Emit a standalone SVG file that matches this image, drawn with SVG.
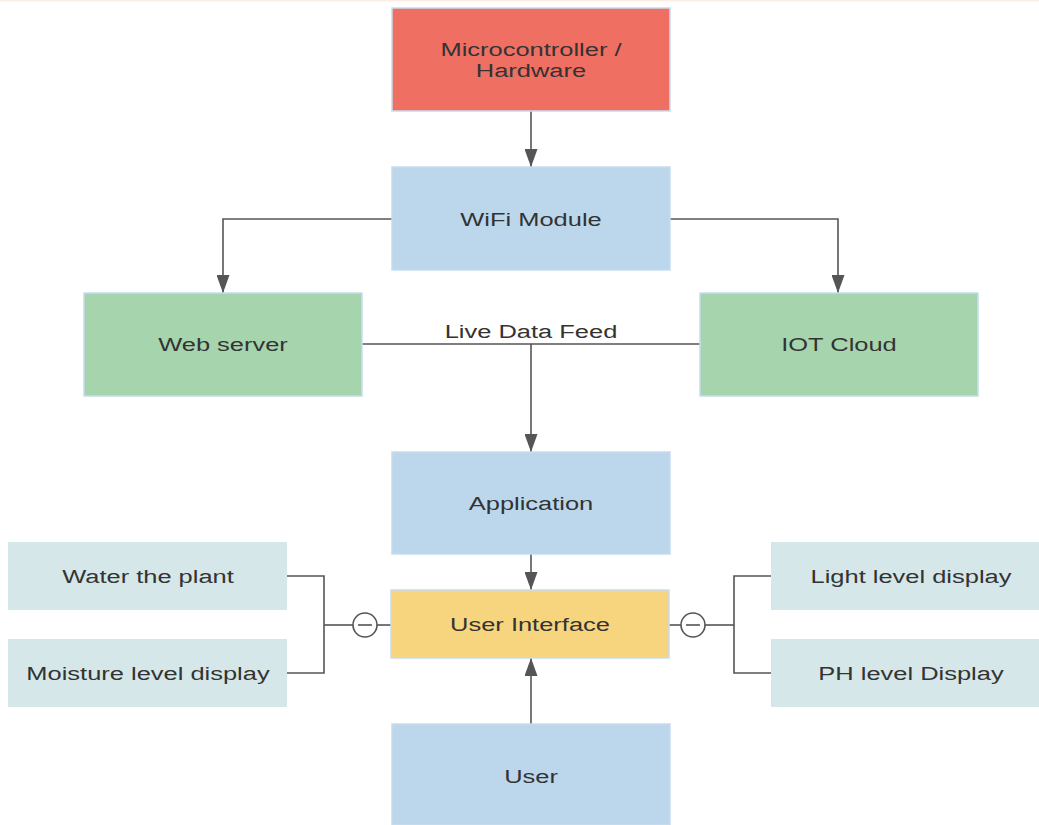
<svg xmlns="http://www.w3.org/2000/svg" width="1039" height="825" viewBox="0 0 1039 825">
  <style>
    .box { stroke: #c6dcee; stroke-width: 1.5; }
    .blue { fill: #bcd7ec; }
    .red { fill: #f06f63; }
    .green { fill: #a6d5ad; }
    .yellow { fill: #f7d57e; }
    .teal { fill: #d5e7e8; stroke: none; }
    .lbl { font-family: "Liberation Sans", Arial, sans-serif; font-size: 19px; fill: #333333; text-anchor: middle; }
    .wire { fill: none; stroke: #555555; stroke-width: 1.6; }
    .knob { fill: #ffffff; stroke: #555555; stroke-width: 1.6; }
  </style>
  <defs>
    <marker id="arrow" viewBox="0 0 18 13" markerWidth="18" markerHeight="13" refX="18" refY="6.5" orient="auto" markerUnits="userSpaceOnUse">
      <path d="M0,0 L18,6.5 L0,13 Z" fill="#555555"/>
    </marker>
  </defs>

  <rect x="0" y="0" width="1039" height="825" fill="#ffffff"/>
  <rect x="0" y="0" width="1039" height="1.5" fill="#fbeee4"/>

  <!-- connectors -->
  <g id="connectors">
    <line class="wire" x1="531" y1="111" x2="531" y2="167" marker-end="url(#arrow)"/>
    <polyline class="wire" points="392,219 223,219 223,293" marker-end="url(#arrow)"/>
    <polyline class="wire" points="670,219 838,219 838,293" marker-end="url(#arrow)"/>
    <line class="wire" x1="362" y1="344" x2="700" y2="344"/>
    <line class="wire" x1="531" y1="344" x2="531" y2="452" marker-end="url(#arrow)"/>
    <line class="wire" x1="531" y1="554" x2="531" y2="590" marker-end="url(#arrow)"/>
    <line class="wire" x1="531" y1="724" x2="531" y2="658" marker-end="url(#arrow)"/>
    <!-- left bracket -->
    <polyline class="wire" points="287,576 324,576 324,673 287,673"/>
    <line class="wire" x1="324" y1="625" x2="353" y2="625"/>
    <line class="wire" x1="377" y1="625" x2="391" y2="625"/>
    <circle class="knob" cx="365" cy="625" r="12"/>
    <line class="wire" x1="358" y1="625" x2="372" y2="625"/>
    <!-- right bracket -->
    <polyline class="wire" points="771,576 734,576 734,673 771,673"/>
    <line class="wire" x1="669" y1="625" x2="681" y2="625"/>
    <line class="wire" x1="705" y1="625" x2="734" y2="625"/>
    <circle class="knob" cx="693" cy="625" r="12"/>
    <line class="wire" x1="686" y1="625" x2="700" y2="625"/>
    <text class="lbl" transform="translate(531 338) scale(1.34 1)">Live Data Feed</text>
  </g>

  <g id="microcontroller">
    <rect class="box red" x="392" y="8" width="278" height="103"/>
    <text class="lbl" transform="translate(531 56) scale(1.34 1)">Microcontroller /</text>
    <text class="lbl" transform="translate(531 77) scale(1.34 1)">Hardware</text>
  </g>

  <g id="wifi">
    <rect class="box blue" x="392" y="167" width="278" height="103"/>
    <text class="lbl" transform="translate(531 226) scale(1.34 1)">WiFi Module</text>
  </g>

  <g id="webserver">
    <rect class="box green" x="84" y="293" width="278" height="103"/>
    <text class="lbl" transform="translate(223 351) scale(1.34 1)">Web server</text>
  </g>

  <g id="iotcloud">
    <rect class="box green" x="700" y="293" width="278" height="103"/>
    <text class="lbl" transform="translate(839 351) scale(1.34 1)">IOT Cloud</text>
  </g>

  <g id="application">
    <rect class="box blue" x="392" y="452" width="278" height="102"/>
    <text class="lbl" transform="translate(531 510) scale(1.34 1)">Application</text>
  </g>

  <g id="ui">
    <rect class="box yellow" x="391" y="590" width="278" height="68"/>
    <text class="lbl" transform="translate(530 631) scale(1.34 1)">User Interface</text>
  </g>

  <g id="user">
    <rect class="box blue" x="392" y="724" width="278" height="101"/>
    <text class="lbl" transform="translate(531 783) scale(1.34 1)">User</text>
  </g>

  <g id="water">
    <rect class="teal" x="8" y="542" width="279" height="68"/>
    <text class="lbl" transform="translate(148 583) scale(1.34 1)">Water the plant</text>
  </g>

  <g id="moisture">
    <rect class="teal" x="8" y="639" width="279" height="68"/>
    <text class="lbl" transform="translate(148 680) scale(1.34 1)">Moisture level display</text>
  </g>

  <g id="light">
    <rect class="teal" x="771" y="542" width="268" height="68"/>
    <text class="lbl" transform="translate(911 583) scale(1.34 1)">Light level display</text>
  </g>

  <g id="ph">
    <rect class="teal" x="771" y="639" width="268" height="68"/>
    <text class="lbl" transform="translate(911 680) scale(1.34 1)">PH level Display</text>
  </g>
</svg>
